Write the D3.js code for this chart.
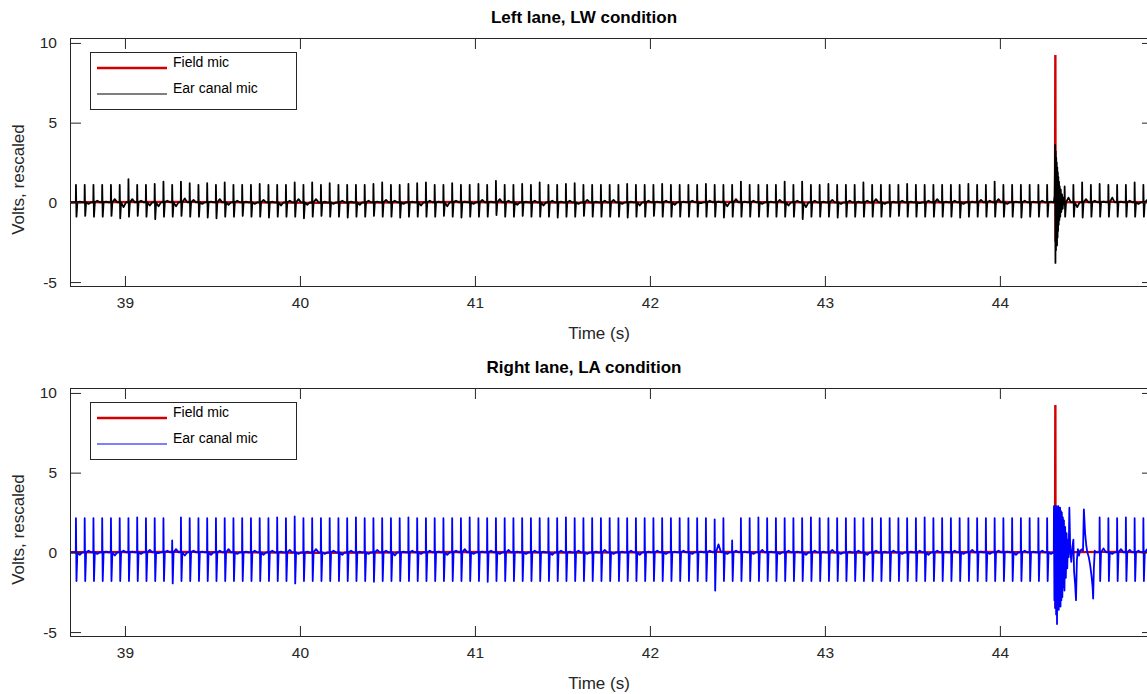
<!DOCTYPE html>
<html><head><meta charset="utf-8">
<script src="https://cdn.jsdelivr.net/npm/d3@7/dist/d3.min.js"></script>
<style>body{margin:0;background:#fff}svg{display:block;font-family:"Liberation Sans",Arial,Helvetica,sans-serif}</style>
</head><body><svg id="c" width="1147" height="694"></svg>
<script>
// ---------- data ----------
const xTicks = [39, 40, 41, 42, 43, 44];
const yTicks = [-5, 0, 5, 10];
const titles = ["Left lane, LW condition", "Right lane, LA condition"];
const seriesNames = ["Field mic", "Ear canal mic"];

// click train in the ear canal recording (s)
const clickTimes = [
 38.72,38.77,38.82,38.87,38.92,38.97,39.02,39.07,39.12,39.17,
 39.22,39.27,39.32,39.37,39.42,39.47,39.52,39.57,39.62,39.67,
 39.72,39.77,39.82,39.87,39.92,39.97,40.02,40.07,40.12,40.17,
 40.22,40.27,40.32,40.37,40.42,40.47,40.52,40.57,40.62,40.67,
 40.72,40.77,40.82,40.87,40.92,40.97,41.02,41.07,41.12,41.17,
 41.22,41.27,41.32,41.37,41.42,41.47,41.52,41.57,41.62,41.67,
 41.72,41.77,41.82,41.87,41.92,41.97,42.02,42.07,42.12,42.17,
 42.22,42.27,42.32,42.37,42.42,42.47,42.52,42.57,42.62,42.67,
 42.72,42.77,42.82,42.87,42.92,42.97,43.02,43.07,43.12,43.17,
 43.22,43.27,43.32,43.37,43.42,43.47,43.52,43.57,43.62,43.67,
 43.72,43.77,43.82,43.87,43.92,43.97,44.02,44.07,44.12,44.17,
 44.22,44.27,44.32,44.37,44.42,44.47,44.52,44.57,44.62,44.67,
 44.72,44.77,44.82
];

// top panel (LW) ear canal mic: click peak, click trough, small bump after click
const topUp = [
 1.1,1.1,1.1,1.1,1.1,1.1,1.45,1.1,1.1,1.15,
 1.3,1.1,1.3,1.2,1.1,1.2,1.1,1.25,1.1,1.1,
 1.1,1.15,1.1,1.1,1.1,1.25,1.1,1.25,1.1,1.2,
 1.1,1.1,1.1,1.1,1.15,1.25,1.1,1.1,1.15,1.2,
 1.25,1.1,1.1,1.2,1.1,1.1,1.15,1.1,1.35,1.1,
 1.1,1.15,1.1,1.25,1.1,1.1,1.15,1.2,1.1,1.1,
 1.1,1.1,1.1,1.15,1.1,1.1,1.1,1.15,1.1,1.1,
 1.1,1.1,1.15,1.1,1.1,1.1,1.3,1.1,1.1,1.1,
 1.1,1.3,1.1,1.3,1.1,1.1,1.15,1.1,1.1,1.1,
 1.25,1.1,1.1,1.1,1.1,1.15,1.1,1.1,1.1,1.1,
 1.1,1.1,1.15,1.1,1.1,1.3,1.1,1.1,1.1,1.1,
 1.1,1.1,0,1.0,1.1,1.25,1.1,1.15,1.1,1.1,
 1.1,1.25,1.1
];
const topDown = [
 -0.9,-0.85,-0.9,-0.9,-0.85,-1.0,-0.9,-0.85,-0.9,-1.05,
 -0.9,-0.9,-0.85,-0.9,-0.9,-0.95,-1.0,-0.9,-0.9,-0.85,
 -0.9,-0.9,-0.95,-0.9,-0.9,-0.9,-1.0,-0.9,-0.85,-0.9,
 -0.9,-0.95,-0.9,-0.9,-0.85,-0.9,-0.9,-0.95,-0.9,-0.9,
 -0.9,-0.9,-0.85,-0.9,-0.95,-0.9,-0.9,-0.9,-0.8,-0.9,
 -0.9,-0.85,-0.9,-0.9,-0.9,-0.95,-0.9,-0.9,-0.85,-0.9,
 -0.9,-0.9,-0.9,-0.95,-0.9,-0.9,-0.85,-0.9,-0.9,-0.9,
 -0.9,-0.9,-0.9,-0.9,-0.95,-0.9,-0.9,-0.9,-0.9,-0.9,
 -0.9,-0.9,-0.9,-1.05,-0.9,-0.9,-0.9,-0.95,-0.9,-0.9,
 -0.9,-0.9,-0.9,-0.9,-0.85,-0.9,-0.9,-0.9,-0.9,-0.9,
 -0.9,-0.95,-0.9,-0.9,-0.9,-0.9,-0.9,-0.9,-0.95,-0.9,
 -0.9,-0.9,0,-0.9,-0.9,-0.95,-0.9,-0.9,-0.9,-0.9,
 -0.9,-0.9,-0.9
];
const topBump = [
 0.05,-0.1,0.1,0.05,0.2,-0.3,0.2,0.1,-0.2,-0.25,
 0.1,-0.25,0.25,0.15,-0.1,0.05,0.2,-0.15,0.1,0.05,
 -0.1,0.15,0.05,-0.2,0.1,0.2,-0.15,0.2,0.05,-0.1,
 0.1,0.05,-0.15,0.1,0.05,0.15,0.1,-0.1,0.05,-0.2,
 0.1,0.05,-0.25,0.1,0.05,-0.1,0.15,0.05,0.2,0.1,
 -0.15,0.05,0.1,-0.2,0.1,0.05,0.1,-0.1,0.15,0.05,
 0.1,0.15,-0.1,0.05,-0.2,0.1,0.05,0.1,-0.15,0.05,
 0.1,-0.05,0.1,0.05,-0.25,0.2,0.05,0.1,-0.1,0.05,
 0.15,-0.2,0.1,-0.3,0.1,0.05,0.15,-0.1,0.1,0.05,
 0.1,0.2,-0.1,0.05,0.1,0.05,-0.05,0.1,0.2,0.05,
 0.1,-0.1,0.05,0.15,0.1,0.2,-0.1,0.05,0.1,0.05,
 0.1,0.05,0,0.3,-0.3,0.2,0.1,0.05,0.3,0.05,
 0.1,-0.1,0.15
];
// top panel ear canal transient around the loud event
const topBurstT = [44.308,44.313,44.316,44.3175,44.319,44.3205,44.322,44.3235,44.325,44.3265,44.328,44.3295,44.331,44.3325,44.334,44.336,44.338,44.340,44.342,44.345,44.348,44.351,44.355,44.359,44.363,44.366];
const topBurstV = [0,0.4,3.6,-3.8,3.2,-3.0,2.8,-2.6,2.5,-2.7,2.2,-2.2,1.9,-1.8,1.6,-1.4,1.3,-1.1,1.0,-0.9,0.8,-0.6,0.5,-0.4,0.3,-0.1];

// bottom panel (LA) ear canal mic
const botUp = [
 2.15,2.15,2.15,2.15,2.15,2.15,2.15,2.2,2.15,2.15,
 2.15,0.75,2.2,2.15,2.15,2.15,2.15,2.15,2.15,2.15,
 2.15,2.15,2.15,2.2,2.15,2.25,2.15,2.15,2.15,2.15,
 2.15,2.15,2.2,2.15,2.15,2.15,2.15,2.15,2.2,2.15,
 2.15,2.15,2.15,2.15,2.15,2.2,2.15,2.15,2.15,2.15,
 2.15,2.15,2.15,2.15,2.15,2.15,2.2,2.15,2.15,2.15,
 2.15,2.15,2.15,2.15,2.15,2.15,2.15,2.15,2.15,2.15,
 2.15,2.15,2.15,2.07,2.15,0.75,2.15,2.15,2.2,2.15,
 2.15,2.15,2.15,2.15,2.2,2.15,2.15,2.15,2.15,2.15,
 2.15,2.15,2.15,2.15,2.15,2.15,2.15,2.2,2.15,2.15,
 2.15,2.15,2.15,2.15,2.15,2.15,2.15,2.15,2.15,2.15,
 2.15,2.15,0,0,0,0,0,2.2,2.15,2.15,
 2.2,2.15,2.15
];
const botDown = [
 -1.8,-1.8,-1.8,-1.8,-1.8,-1.8,-1.8,-1.8,-1.8,-1.8,
 -1.8,-1.95,-1.8,-1.8,-1.8,-1.8,-1.8,-1.8,-1.8,-1.8,
 -1.8,-1.8,-1.8,-1.8,-1.8,-1.95,-1.8,-1.8,-1.8,-1.8,
 -1.8,-1.8,-1.8,-1.8,-1.85,-1.8,-1.8,-1.8,-1.8,-1.8,
 -1.8,-1.8,-1.8,-1.8,-1.8,-1.8,-1.8,-1.85,-1.8,-1.8,
 -1.8,-1.8,-1.8,-1.8,-1.8,-1.8,-1.8,-1.8,-1.8,-1.8,
 -1.8,-1.8,-1.8,-1.8,-1.8,-1.8,-1.8,-1.8,-1.8,-1.8,
 -1.8,-1.8,-1.8,-2.4,-1.8,-1.8,-1.8,-1.8,-1.8,-1.8,
 -1.8,-1.8,-1.8,-1.8,-1.8,-1.8,-1.8,-1.8,-1.8,-1.8,
 -1.8,-1.8,-1.8,-1.8,-1.8,-1.8,-1.8,-1.8,-1.8,-1.8,
 -1.8,-1.8,-1.8,-1.8,-1.8,-1.8,-1.8,-1.8,-1.8,-1.8,
 -1.8,-1.8,0,0,0,0,0,-1.8,-1.8,-1.8,
 -1.8,-1.8,-1.8
];
const botBump = [
 -0.15,0.1,-0.1,0.05,-0.2,0.1,0.05,-0.1,0.15,-0.05,
 0.1,0.2,-0.2,0.1,0.05,-0.15,0.1,0.2,-0.1,0.05,
 0.1,-0.15,0.1,0.05,0.15,-0.1,0.05,0.2,-0.1,0.1,
 -0.15,0.1,0.05,-0.1,0.15,0.1,-0.2,0.05,0.1,-0.1,
 0.1,0.05,-0.15,0.1,0.2,-0.1,0.05,0.1,-0.1,0.15,
 0.05,-0.1,0.1,0.05,-0.15,0.1,0.05,0.1,-0.1,0.05,
 0.15,-0.1,0.05,0.1,-0.15,0.05,0.1,-0.1,0.05,0.1,
 -0.1,0.05,0.1,0.5,-0.1,0.1,0.05,-0.1,0.15,0.05,
 -0.1,0.1,0.05,-0.15,0.1,0.05,0.15,-0.1,0.05,0.1,
 -0.15,0.1,0.05,0.1,-0.1,0.05,0.1,-0.15,0.1,0.05,
 0.1,-0.1,0.15,0.05,-0.1,0.1,0.05,-0.15,0.1,0.05,
 0.1,-0.1,0,0,0,0,0,0.25,-0.1,0.2,
 0.15,0.1,0.2
];
const botBurstT = [44.308,44.309,44.3115,44.314,44.3165,44.319,44.3215,44.324,44.3265,44.329,44.3315,44.334,44.3365,44.339,44.3415,44.344,44.3465,44.349,44.3515,44.354,44.357,44.360,44.363,44.366,44.369,44.373,44.377,44.381,44.385,44.389,44.393,44.397,44.402,44.408,44.414,44.420,44.424,44.430,44.435,44.440,44.446,44.452,44.458,44.470,44.475,44.480,44.487,44.494,44.500,44.508,44.516,44.524,44.530,44.533,44.537,44.542,44.548];
const botBurstV = [0,2.9,-3.0,2.9,-3.5,2.9,-3.9,2.9,-4.5,2.8,-3.3,2.9,-3.6,2.8,-3.1,2.8,-3.4,2.6,-3.0,2.5,-2.8,2.2,-2.2,2.0,-2.4,1.6,-1.6,1.2,-1.0,0.8,-0.3,2.8,0.2,-0.6,0.3,0.8,-1.2,-2.0,-3.0,-0.5,0.2,-0.2,0.1,0.2,0.1,2.7,1.2,0.4,0.0,-0.3,-0.8,-1.5,-2.2,-2.9,-1.0,0.1,0.0];

// field mic (both panels): nearly flat, one loud event
const fieldT = [38.6, 39.3, 40.1, 40.9, 41.6, 42.4, 43.2, 44.0, 44.315, 44.317, 44.318, 44.3195, 44.321, 44.6, 45.0];
const fieldTopV = [0, 0.03, -0.03, 0.02, -0.02, 0.03, -0.02, 0.02, 0, 9.25, -2.47, 0, 0, 0.03, 0];
const fieldBotV = [0, 0.03, -0.03, 0.02, -0.02, 0.03, -0.02, 0.02, 0, 9.25, -3.5, 0, 0, 0.03, 0];

// ---------- drawing ----------
const svg = d3.select("#c");
const axisCol = "#262626";
const fieldCol = "#d20000";
const left = 70, right = 1153;
const panels = [
  {top: 38, bottom: 287, title: titles[0], earCol: "#000000", up: topUp, down: topDown, bump: topBump, bT: topBurstT, bV: topBurstV, fV: fieldTopV},
  {top: 388, bottom: 637, title: titles[1], earCol: "#0000ff", up: botUp, down: botDown, bump: botBump, bT: botBurstT, bV: botBurstV, fV: fieldBotV}
];
const x = d3.scaleLinear().domain([38.686, 44.875]).range([left, right]);

function earPoints(p) {
  const pts = [];
  const t0 = p.bT[0], t1 = p.bT[p.bT.length - 1];
  clickTimes.forEach((t, i) => {
    if (t >= t0 && t <= t1) return;
    pts.push([t - 0.001, 0], [t, p.up[i]], [t + 0.003, p.down[i]], [t + 0.008, 0], [t + 0.022, p.bump[i]], [t + 0.036, 0]);
  });
  p.bT.forEach((t, i) => pts.push([t, p.bV[i]]));
  pts.push([38.6, 0], [45.0, 0]);
  pts.sort((a, b) => a[0] - b[0]);
  return pts;
}

panels.forEach((p, k) => {
  const y = d3.scaleLinear().domain([-5.31, 10.31]).range([p.bottom, p.top]);
  const g = svg.append("g");
  const clipId = "clip" + k;
  svg.append("clipPath").attr("id", clipId).append("rect")
    .attr("x", left).attr("y", p.top).attr("width", right - left).attr("height", p.bottom - p.top);

  const line = d3.line().x(d => x(d[0])).y(d => y(d[1]));
  const plot = g.append("g").attr("clip-path", `url(#${clipId})`);
  plot.append("path").datum(fieldT.map((t, i) => [t, p.fV[i]]))
    .attr("d", line).attr("fill", "none").attr("stroke", fieldCol).attr("stroke-width", 2.4);
  plot.append("path").datum(earPoints(p))
    .attr("d", line).attr("fill", "none").attr("stroke", p.earCol).attr("stroke-width", 1.8)
    .attr("stroke-linejoin", "round");

  // axes (MATLAB box with inward ticks)
  const tickLen = 11;
  const styleAxis = sel => {
    sel.select(".domain").remove();
    sel.selectAll("line").attr("stroke", axisCol);
    sel.selectAll("text").attr("fill", axisCol).style("font-size", "15.5px").style("font-family", '"Liberation Sans",Arial,sans-serif');
  };
  const fmt = d => String(d);
  g.append("g").attr("transform", `translate(0,${p.bottom})`)
    .call(d3.axisBottom(x).tickValues(xTicks).tickSize(-tickLen).tickPadding(10).tickFormat(fmt))
    .call(styleAxis);
  g.append("g").attr("transform", `translate(0,${p.top})`)
    .call(d3.axisTop(x).tickValues(xTicks).tickSize(-tickLen).tickFormat(""))
    .call(styleAxis);
  g.append("g").attr("transform", `translate(${left},0)`)
    .call(d3.axisLeft(y).tickValues(yTicks).tickSize(-tickLen).tickPadding(13).tickFormat(fmt))
    .call(styleAxis);
  g.append("g").attr("transform", `translate(${right},0)`)
    .call(d3.axisRight(y).tickValues(yTicks).tickSize(-tickLen).tickFormat(""))
    .call(styleAxis);
  g.append("rect").attr("x", left + 0.5).attr("y", p.top + 0.5).attr("width", right - left).attr("height", p.bottom - p.top - 1)
    .attr("fill", "none").attr("stroke", axisCol).attr("stroke-width", 1);

  // title and labels
  g.append("text").attr("x", 584).attr("y", p.top - 15).attr("text-anchor", "middle")
    .style("font-weight", "bold").style("font-size", "17px").attr("fill", "#000").text(p.title);
  g.append("text").attr("x", 599).attr("y", p.bottom + 52).attr("text-anchor", "middle")
    .style("font-size", "17px").attr("fill", axisCol).text("Time (s)");
  g.append("text").attr("transform", `translate(24,${(p.top + p.bottom) / 2 + 17}) rotate(-90)`).attr("text-anchor", "middle")
    .style("font-size", "17px").attr("fill", axisCol).text("Volts, rescaled");

  // legend
  const lg = g.append("g").attr("transform", `translate(90,${p.top + 14})`);
  lg.append("rect").attr("x", 0.5).attr("y", 0.5).attr("width", 206).attr("height", 57)
    .attr("fill", "#fff").attr("stroke", axisCol);
  [fieldCol, p.earCol].forEach((c, i) => {
    const ly = 16 + i * 26;
    lg.append("line").attr("x1", 7).attr("x2", 77).attr("y1", ly).attr("y2", ly)
      .attr("stroke", c).attr("stroke-width", i === 0 ? 2.4 : 1.1);
    lg.append("text").attr("x", 83).attr("y", ly - 1).style("font-size", "14px").attr("fill", "#000").text(seriesNames[i]);
  });
});
</script>
</body></html>
